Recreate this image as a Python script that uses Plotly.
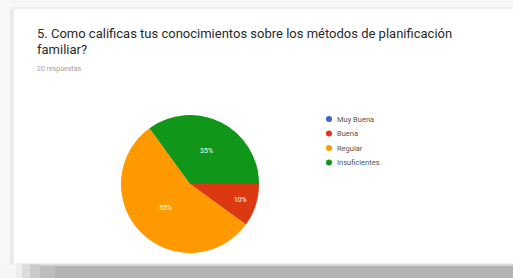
import plotly.graph_objects as go

W, H = 513, 278

categories = ["Muy Buena", "Buena", "Regular", "Insuficientes"]
values = [0, 2, 11, 7]
colors = ["#3366CC", "#DC3912", "#FF9900", "#109618"]
title_lines = ["5. Como calificas tus conocimientos sobre los métodos de planificación", "familiar?"]
subtitle = "20 respuestas"

def px(x):
    return x / W

def py(y):
    return 1 - y / H

fig = go.Figure()

cx, cy, r = 190, 184, 69
fig.add_trace(go.Pie(
    labels=categories, values=values,
    marker=dict(colors=colors, line=dict(width=0)),
    sort=False, direction="clockwise", rotation=90,
    texttemplate="%{percent:.0%}", textposition="inside",
    insidetextorientation="horizontal",
    textfont=dict(color="white", size=7, family="Roboto"),
    showlegend=False, hoverinfo="label+percent",
    domain=dict(x=[px(cx - r), px(cx + r)], y=[py(cy + r), py(cy - r)]),
))

shapes = []
# shadow band below the card, fading towards the left
fade = [(0, "#f6f6f6"), (16, "#eeeeee"), (22, "#dcdcdc"), (30, "#cbcbcb"), (40, "#bdbdbd"), (55, "#b3b3b3")]
for k, (x0, col) in enumerate(fade):
    shapes.append(dict(type="rect", xref="paper", yref="paper",
                       x0=px(x0), x1=1.0, y0=0, y1=py(264),
                       fillcolor=col, line=dict(width=0), layer="below"))
shapes.append(dict(type="rect", xref="paper", yref="paper",
                   x0=px(40), x1=1.0, y0=py(266), y1=py(264),
                   fillcolor="#d6d6d6", line=dict(width=0), layer="below"))
# left soft shadow
shapes.append(dict(type="rect", xref="paper", yref="paper",
                   x0=px(10), x1=px(13), y0=py(264), y1=py(10),
                   fillcolor="#ebebeb", line=dict(width=0), layer="below"))
# card
shapes.append(dict(type="rect", xref="paper", yref="paper",
                   x0=px(13), x1=1.02, y0=py(264), y1=py(8),
                   fillcolor="white", line=dict(color="#e3e3e3", width=1), layer="below"))

annotations = []
for i, line in enumerate(title_lines):
    annotations.append(dict(text=line, x=px(35), y=py(33 + 16 * i), xref="paper", yref="paper",
                            xanchor="left", yanchor="middle", showarrow=False,
                            font=dict(family="Roboto", size=13, color="#2a2a2a")))
annotations.append(dict(text=subtitle, x=px(35), y=py(69), xref="paper", yref="paper",
                        xanchor="left", yanchor="middle", showarrow=False,
                        font=dict(family="Roboto", size=7, color="#a0a0a0")))

# legend drawn as circles + labels
lx, ly0, dy, mr = 329, 119, 14.5, 3
for i, (lab, col) in enumerate(zip(categories, colors)):
    yy = ly0 + dy * i
    shapes.append(dict(type="circle", xref="paper", yref="paper",
                       x0=px(lx - mr), x1=px(lx + mr), y0=py(yy + mr), y1=py(yy - mr),
                       fillcolor=col, line=dict(width=0)))
    annotations.append(dict(text=lab, x=px(lx + 6), y=py(yy), xref="paper", yref="paper",
                            xanchor="left", yanchor="middle", showarrow=False,
                            font=dict(family="Roboto", size=7.5, color="#555555")))

fig.update_layout(
    width=W, height=H, margin=dict(l=0, r=0, t=0, b=0),
    paper_bgcolor="#f7f7f7", plot_bgcolor="rgba(0,0,0,0)",
    shapes=shapes, annotations=annotations,
    xaxis=dict(visible=False), yaxis=dict(visible=False),
)

fig.write_html("out.html", config={"displayModeBar": False},
               post_script="document.body.style.margin='0';")
